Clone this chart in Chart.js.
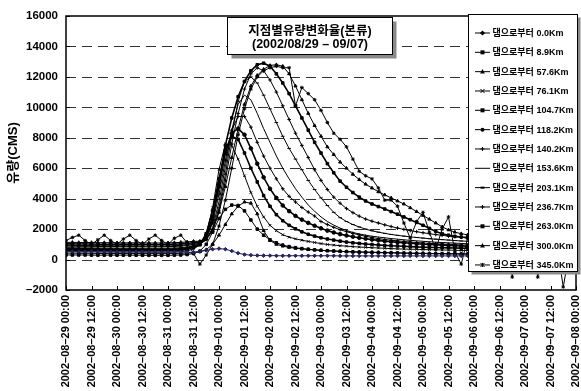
<!DOCTYPE html>
<html><head><meta charset="utf-8">
<script src="https://cdn.jsdelivr.net/npm/chart.js"></script>
<style>html,body{margin:0;padding:0;background:#fff;}canvas{display:block;}</style>
</head><body>
<canvas id="c" width="581" height="391"></canvas>
<script>
// hours since 2002-08-29 00:00
const hours = [0,3,6,9,12,15,18,21,24,27,30,33,36,39,42,45,48,51,54,57,60,63,66,69,72,75,78,81,84,87,90,93,96,99,102,105,108,111,114,117,120,123,126,129,132,135,138,141,144,147,150,153,156,159,162,165,168,171,174,177,180,183,186,189,192,195,198,201,204,207,210,213,216,219,222,225,228,231,234,237,240];

const xTickLabels = ['2002–08–29 00:00','2002–08–29 12:00','2002–08–30 00:00','2002–08–30 12:00','2002–08–31 00:00','2002–08–31 12:00','2002–09–01 00:00','2002–09–01 12:00','2002–09–02 00:00','2002–09–02 12:00','2002–09–03 00:00','2002–09–03 12:00','2002–09–04 00:00','2002–09–04 12:00','2002–09–05 00:00','2002–09–05 12:00','2002–09–06 00:00','2002–09–06 12:00','2002–09–07 00:00','2002–09–07 12:00','2002–09–08 00:00'];

const seriesLabels = ['댐으로부터 0.0Km','댐으로부터 8.9Km','댐으로부터 57.6Km','댐으로부터 76.1Km','댐으로부터 104.7Km','댐으로부터 118.2Km','댐으로부터 140.2Km','댐으로부터 153.6Km','댐으로부터 203.1Km','댐으로부터 236.7Km','댐으로부터 263.0Km','댐으로부터 300.0Km','댐으로부터 345.0Km'];

const chartTitle = ['지점별유량변화율(본류)','(2002/08/29 – 09/07)'];
const yTitle = '유량(CMS)';

const km000 = [520,520,510,510,520,520,510,510,500,500,
 500,510,510,500,500,490,490,500,500,480,
 480,520,600,680,720,680,560,420,330,290,
 270,260,260,250,250,250,250,250,250,250,
 250,250,250,240,240,240,240,240,240,240,
 240,240,240,240,240,240,240,240,240,240,
 240,240,240,240,240,240,240,240,240,240,
 240,240,240,240,240,240,240,240,240,240,
 240];
const km089 = [300,300,300,300,290,290,290,290,290,290,
 290,290,280,280,280,280,280,290,300,330,
 400,550,1000,1800,2700,3300,3580,3550,3200,2600,
 2000,1600,1300,1100,950,850,780,720,680,640,
 610,580,560,540,520,500,490,480,470,460,
 450,440,430,420,410,400,400,390,380,380,
 370,370,360,360,350,350,350,340,340,340,
 330,330,330,320,320,320,310,310,310,300,
 300];
const km576 = [420,420,410,410,410,400,400,400,400,400,
 400,400,390,390,390,390,390,400,410,430,
 470,520,650,1000,1600,2300,3000,3500,3780,3700,
 3000,1900,1250,1000,880,800,740,700,660,630,
 600,580,560,540,520,510,500,490,480,470,
 460,450,440,430,420,420,410,400,400,390,
 390,380,380,370,370,360,360,350,350,350,
 340,340,340,330,330,330,320,320,320,320,
 310];
const km761 = [520,520,510,510,510,500,500,500,500,500,
 500,500,490,490,490,490,500,500,520,560,
 700,950,1700,3400,5900,7600,7500,6600,5500,4400,
 3500,2800,2250,1900,1630,1470,1360,1270,1190,1120,
 1050,990,950,910,880,850,820,800,780,760,
 740,720,700,690,680,670,660,650,640,630,
 620,610,600,590,580,570,560,560,550,540,
 540,530,520,520,510,510,500,500,490,490,
 480];
const km1047 = [620,620,610,610,610,600,600,600,600,600,
 600,600,590,590,590,590,600,600,620,660,
 800,1000,1700,3200,5300,7200,8100,7900,7000,6000,
 5100,4200,3500,2950,2550,2250,2020,1820,1660,1540,
 1430,1350,1280,1210,1150,1100,1060,1020,990,960,
 930,910,890,870,850,830,810,800,790,780,
 770,760,750,740,730,720,710,700,690,680,
 670,660,650,640,640,630,620,620,610,600,
 600];
const km1182 = [680,680,670,670,670,660,660,660,650,650,
 650,650,640,640,640,640,650,660,680,720,
 850,1000,1600,2800,4800,7000,8300,8600,8200,7300,
 6300,5400,4650,4050,3550,3180,2870,2620,2410,2220,
 2050,1900,1780,1670,1580,1500,1430,1370,1310,1260,
 1210,1170,1130,1100,1070,1040,1010,990,970,950,
 930,910,890,870,860,850,840,830,820,810,
 800,790,780,770,760,750,740,730,720,710,
 700];
const km1402 = [730,730,720,720,720,710,710,710,700,700,
 700,700,690,690,690,690,700,710,730,770,
 880,1000,1400,2400,4300,6500,8500,9400,9400,8700,
 7700,6800,6000,5300,4650,4150,3780,3420,3120,2860,
 2500,2300,2120,1960,1830,1720,1620,1530,1450,1380,
 1320,1270,1230,1190,1150,1120,1090,1060,1040,1020,
 1000,980,960,940,930,920,910,900,890,880,
 870,860,850,840,830,820,810,800,790,780,
 770];
const km1536 = [780,780,770,770,770,760,760,760,750,750,
 750,750,740,740,740,740,750,760,780,820,
 920,1000,1300,2100,3800,6100,8500,10200,10800,10500,
 9600,8600,7700,6800,6000,5300,4650,4100,3580,3170,
 2800,2500,2260,2070,1910,1780,1680,1600,1530,1480,
 1430,1380,1340,1300,1260,1230,1200,1170,1140,1120,
 1100,1080,1060,1040,1020,1000,985,970,955,940,
 930,920,910,900,890,880,870,860,850,840,
 830];
const km2031 = [880,880,870,870,870,860,860,860,850,850,
 850,850,840,840,840,840,850,860,880,920,
 1000,1050,1300,2000,3400,5600,8200,10400,11700,12000,
 11600,10800,9900,9000,8100,7300,6600,5900,5200,4600,
 4050,3550,3100,2750,2500,2300,2140,2000,1890,1800,
 1720,1650,1590,1540,1490,1450,1410,1370,1340,1310,
 1280,1250,1220,1200,1180,1160,1140,1120,1100,1090,
 1080,1070,1060,1050,1040,1030,1020,1010,1000,990,
 980];
const km2367 = [930,930,920,920,920,910,910,910,900,900,
 900,900,890,890,890,890,900,910,930,970,
 1050,1100,1300,1900,3200,5200,7600,9600,11200,12200,
 12600,12400,11800,11000,10100,9200,8300,7500,6700,5900,
 5200,4600,4100,3700,3350,3080,2850,2660,2520,2400,
 2280,2170,2070,1980,1900,1830,1760,1700,1640,1590,
 1540,1500,1460,1420,1390,1360,1330,1300,1280,1260,
 1240,1220,1200,1180,1160,1150,1140,1130,1120,1110,
 1100];
const km2630 = [1030,1030,1020,1020,1020,1010,1010,1010,1000,1000,
 1000,1000,990,990,990,990,1000,1010,1030,1060,
 1120,1150,1400,2600,5000,7500,9300,10700,11700,12400,
 12800,12900,12700,12200,11600,10900,10100,9300,8500,7700,
 7000,6300,5700,5150,4750,4400,4100,3850,3650,3480,
 3320,3150,2980,2800,2620,2440,2250,2050,1850,1700,
 1600,1530,1480,1440,1400,1370,1340,1310,1290,1270,
 1250,1230,1210,1200,1190,1180,1170,1160,1150,1150,
 1140];
const km3000 = [1130,1130,1120,1120,1120,1110,1110,1110,1100,1100,
 1100,1100,1090,1090,1090,1090,1100,1110,1130,1160,
 1200,1200,1350,1900,3100,4800,6700,8600,10200,11400,
 12100,12500,12750,12800,12700,12200,11400,10500,9600,8800,
 8100,7400,6900,6400,6000,5600,5250,4950,4700,4450,
 4250,4050,3850,3650,3400,3150,2900,2650,2400,2150,
 1950,1800,1700,1620,1560,1510,1470,1430,1400,1370,
 1350,1330,1310,1290,1270,1260,1250,1240,1230,1220,
 1210];
const km3450 = [1250,1450,1600,1250,1000,1300,1600,1250,1000,1350,
 1600,1250,1000,1350,1600,1250,1000,1400,1600,1100,
 400,-300,300,1000,2200,3900,6000,8200,9900,11200,
 12000,12400,12600,12700,12600,12600,10100,11300,10900,10500,
 9800,9000,8300,7900,7400,6600,5800,5500,5300,4700,
 3900,3900,3500,2400,1400,2500,3100,1800,650,2000,
 2800,500,-300,1400,2500,1400,-700,1000,2300,1200,
 -1150,900,2200,1100,-1150,800,2000,1000,-1800,600,
 1800];

const seriesValues = [km000,km089,km576,km761,km1047,km1182,km1402,km1536,km2031,km2367,km2630,km3000,km3450];
const seriesMarkers = ['rectRot','rect','triangle','crossRot','rect','circle','cross','none','line','cross','rect','triangle','star'];

const FONT = "'Liberation Sans', Arial, 'Noto Sans CJK KR', sans-serif";

function drawMarker(ctx, style, x, y, r) {
  ctx.save();
  ctx.fillStyle = '#000'; ctx.strokeStyle = '#000'; ctx.lineWidth = 1;
  ctx.beginPath();
  switch (style) {
    case 'circle': ctx.arc(x, y, r, 0, Math.PI * 2); ctx.fill(); break;
    case 'rect': ctx.fillRect(x - r, y - r, 2 * r, 2 * r); break;
    case 'rectRot': ctx.moveTo(x, y - r * 1.3); ctx.lineTo(x + r * 1.3, y); ctx.lineTo(x, y + r * 1.3); ctx.lineTo(x - r * 1.3, y); ctx.closePath(); ctx.fill(); break;
    case 'triangle': ctx.moveTo(x, y - r * 1.3); ctx.lineTo(x + r * 1.2, y + r * 0.9); ctx.lineTo(x - r * 1.2, y + r * 0.9); ctx.closePath(); ctx.fill(); break;
    case 'cross': ctx.moveTo(x - r, y); ctx.lineTo(x + r, y); ctx.moveTo(x, y - r); ctx.lineTo(x, y + r); ctx.stroke(); break;
    case 'crossRot': ctx.moveTo(x - r, y - r); ctx.lineTo(x + r, y + r); ctx.moveTo(x + r, y - r); ctx.lineTo(x - r, y + r); ctx.stroke(); break;
    case 'star': ctx.moveTo(x - r, y - r); ctx.lineTo(x + r, y + r); ctx.moveTo(x + r, y - r); ctx.lineTo(x - r, y + r); ctx.moveTo(x, y - r); ctx.lineTo(x, y + r); ctx.stroke(); break;
    case 'line': ctx.lineWidth = 2; ctx.moveTo(x - r, y); ctx.lineTo(x + r, y); ctx.stroke(); break;
  }
  ctx.restore();
}

const datasets = seriesLabels.map((label, i) => ({
  label,
  data: hours.map((h, j) => ({ x: h, y: seriesValues[i][j] })),
  borderColor: i === 0 ? '#23235e' : '#000',
  backgroundColor: '#000',
  borderWidth: (i === 4 || i === 10 || i === 5) ? 1.6 : 1,
  pointStyle: seriesMarkers[i] === 'none' ? false : seriesMarkers[i],
  pointRadius: seriesMarkers[i] === 'none' ? 0 : 1.8,
  pointBorderWidth: 1,
  pointBackgroundColor: i === 0 ? '#23235e' : '#000',
  pointBorderColor: i === 0 ? '#23235e' : '#000',
  tension: 0
}));

const gridPlugin = {
  id: 'gridPlugin',
  beforeDatasetsDraw(chart) {
    const { ctx, chartArea: a, scales: { y } } = chart;
    ctx.save();
    ctx.strokeStyle = '#333'; ctx.lineWidth = 1; ctx.setLineDash([10, 6]);
    y.ticks.forEach(t => {
      if (t.value <= y.min || t.value >= y.max) return;
      const py = Math.round(y.getPixelForValue(t.value)) + 0.5;
      ctx.beginPath(); ctx.moveTo(a.left, py); ctx.lineTo(a.right, py); ctx.stroke();
    });
    ctx.restore();
  },
  afterDatasetsDraw(chart) {
    const { ctx, chartArea: a, scales: { x, y } } = chart;
    ctx.save();
    ctx.strokeStyle = '#000'; ctx.lineWidth = 1.5; ctx.setLineDash([]);
    ctx.strokeRect(a.left, a.top, a.right - a.left, a.bottom - a.top);
    ctx.lineWidth = 1;
    x.ticks.forEach(t => {
      const px = Math.round(x.getPixelForValue(t.value)) + 0.5;
      ctx.beginPath(); ctx.moveTo(px, a.bottom); ctx.lineTo(px, a.bottom - 4); ctx.stroke();
    });
    y.ticks.forEach(t => {
      const py = Math.round(y.getPixelForValue(t.value)) + 0.5;
      ctx.beginPath(); ctx.moveTo(a.left, py); ctx.lineTo(a.left + 4, py); ctx.stroke();
    });
    ctx.restore();
  }
};

const overlayPlugin = {
  id: 'overlayPlugin',
  afterDraw(chart) {
    const ctx = chart.ctx;
    ctx.save();
    // title box
    const bx = 227.5, by = 17.5, bw = 165, bh = 37;
    ctx.fillStyle = '#8a8a8a';
    ctx.fillRect(bx + 4, by + 4, bw, bh);
    ctx.fillStyle = '#fff'; ctx.fillRect(bx, by, bw, bh);
    ctx.strokeStyle = '#000'; ctx.lineWidth = 1; ctx.strokeRect(bx, by, bw, bh);
    ctx.fillStyle = '#000'; ctx.textAlign = 'center'; ctx.textBaseline = 'middle';
    ctx.font = "bold 12.5px " + FONT;
    ctx.fillText(chartTitle[0], bx + bw / 2, 32);
    ctx.fillText(chartTitle[1], bx + bw / 2, 44.5);
    // legend box
    const lx = 468.5, ly = 14.5, lw = 109, lh = 257;
    ctx.fillStyle = '#8a8a8a'; ctx.fillRect(lx + 3, ly + 3, lw, lh);
    ctx.fillStyle = '#fff'; ctx.fillRect(lx, ly, lw, lh);
    ctx.strokeStyle = '#000'; ctx.strokeRect(lx, ly, lw, lh);
    ctx.font = "bold 9px " + FONT; ctx.textAlign = 'left';
    chart.data.datasets.forEach((ds, i) => {
      const yy = 33 + i * 19.33;
      ctx.strokeStyle = '#000'; ctx.lineWidth = 1;
      ctx.beginPath(); ctx.moveTo(475, yy); ctx.lineTo(490, yy); ctx.stroke();
      if (seriesMarkers[i] !== 'none') drawMarker(ctx, seriesMarkers[i], 482.5, yy, 2);
      ctx.fillStyle = '#000';
      ctx.fillText(ds.label, 492.5, yy + 0.5);
    });
    ctx.restore();
  }
};

new Chart(document.getElementById('c'), {
  type: 'line',
  data: { datasets },
  options: {
    responsive: false,
    animation: false,
    devicePixelRatio: 1,
    layout: { padding: { top: 16, right: 3, left: 0, bottom: 0 } },
    plugins: { legend: { display: false }, tooltip: { enabled: false }, title: { display: false } },
    scales: {
      x: {
        type: 'linear', min: 0, max: 240,
        ticks: {
          stepSize: 12, autoSkip: false, maxRotation: 90, minRotation: 90, padding: 5,
          color: '#000', font: { family: FONT, size: 11, weight: 'bold' },
          callback: v => xTickLabels[Math.round(v / 12)]
        },
        grid: { display: false, drawTicks: false },
        border: { display: false },
        afterFit: s => { s.height = 101; s.paddingLeft = 0; s.paddingRight = 0; }
      },
      y: {
        min: -2000, max: 16000,
        ticks: {
          stepSize: 2000, padding: 8, color: '#000',
          font: { family: FONT, size: 11.5, weight: 'bold' },
          callback: v => v < 0 ? '–' + Math.abs(v) : String(v)
        },
        grid: { display: false, drawTicks: false },
        border: { display: false },
        title: { display: true, text: yTitle, color: '#000', font: { family: FONT, size: 13, weight: 'bold' }, padding: { top: 6, bottom: 0 } },
        afterFit: s => { s.width = 66; s.paddingTop = 0; s.paddingBottom = 0; }
      }
    }
  },
  plugins: [gridPlugin, overlayPlugin]
});
</script>
</body></html>
